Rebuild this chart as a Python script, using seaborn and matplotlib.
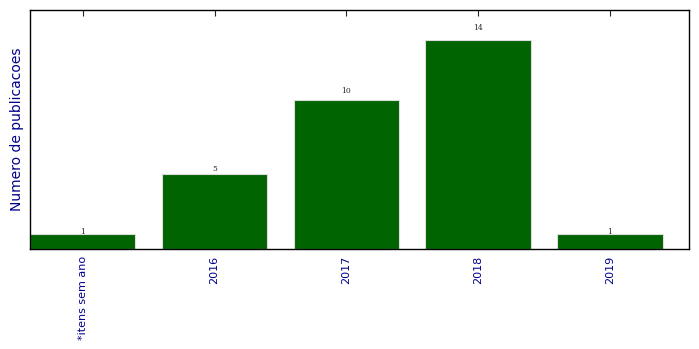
import matplotlib
matplotlib.use("Agg")
import matplotlib.pyplot as plt
import seaborn as sns
import pandas as pd

categories = ["*itens sem ano", "2016", "2017", "2018", "2019"]
values = [1, 5, 10, 14, 1]

sns.set_style("white")
plt.rcParams['font.family'] = ['DejaVu Sans']

df = pd.DataFrame({"cat": categories, "val": values})

fig = plt.figure(figsize=(6.99, 3.49), dpi=100)
ax = fig.add_axes([30/699, 1-249/349, (689-30)/699, (249-10)/349])

sns.barplot(data=df, x="cat", y="val", color="#006400", saturation=1,
            width=0.8, edgecolor="#dddddd", linewidth=0.8, ax=ax)

for p, v in zip(ax.patches, values):
    ax.annotate(str(v), (p.get_x() + p.get_width()/2, 1.05*v),
                xytext=(0, -2), textcoords="offset points",
                ha="center", va="bottom", fontsize=5.5, family="DejaVu Serif")

ax.set_xlim(-0.4, 4.6)
ax.set_ylim(0, 16)
ax.set_yticks([])
ax.set_xlabel("")
ax.set_ylabel("Numero de publicacoes", color="darkblue", fontsize=10)
ax.tick_params(axis="x", direction="in", top=True, bottom=True, length=4, width=0.8,
               labelrotation=90, labelcolor="darkblue", labelsize=8, pad=5)
for s in ax.spines.values():
    s.set_visible(True)
    s.set_color("black")
    s.set_linewidth(1)

fig.savefig("out.png", dpi=100)
